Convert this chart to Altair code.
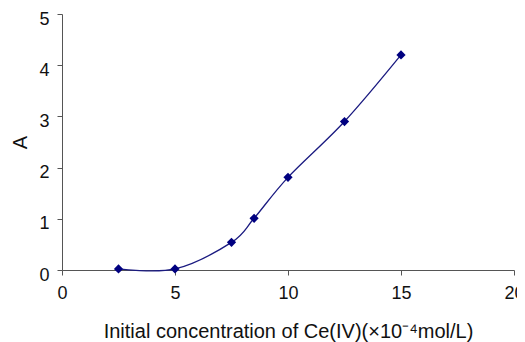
import altair as alt
import pandas as pd

conc = [2.5, 5, 7.5, 8.5, 10, 12.5, 15]
absorb = [0.02, 0.02, 0.54, 1.01, 1.81, 2.90, 4.20]
df = pd.DataFrame({"x": conc, "y": absorb})

FONT = "Liberation Sans"
x = alt.X("x:Q", scale=alt.Scale(domain=[0, 20], nice=False),
          axis=alt.Axis(values=[0, 5, 10, 15, 20], title="Initial concentration of Ce(IV)(×10⁻⁴mol/L)",
                        grid=False, tickSize=5, labelFontSize=18, titleFontSize=20,
                        labelFont=FONT, titleFont=FONT, titleFontWeight="normal",
                        domainColor="#555", tickColor="#555", labelColor="#111", titleColor="#111",
                        labelPadding=9, titlePadding=19, labelFlush=False))
y = alt.Y("y:Q", scale=alt.Scale(domain=[0, 5], nice=False),
          axis=alt.Axis(values=[0, 1, 2, 3, 4, 5], title="A",
                        grid=False, tickSize=5, labelFontSize=18, titleFontSize=20,
                        labelFont=FONT, titleFont=FONT, titleFontWeight="normal",
                        domainColor="#555", tickColor="#555", labelColor="#111", titleColor="#111",
                        labelPadding=8, titlePadding=8, labelFlush=False, labelOffset=5))

base = alt.Chart(df)
line = base.mark_line(interpolate="cardinal", color="#1a1a80", strokeWidth=1.3).encode(x=x, y=y)
pts = base.mark_point(shape="diamond", filled=True, size=85, color="#000080", opacity=1).encode(x=x, y=y)

chart = (line + pts).properties(
    width=452, height=256,
    autosize=alt.AutoSizeParams(type="none"),
    padding={"left": 54, "top": 6, "right": 3, "bottom": 80},
).configure(background="white").configure_view(stroke=None)

chart.save("out.html", embed_options={"renderer": "svg", "actions": False})
